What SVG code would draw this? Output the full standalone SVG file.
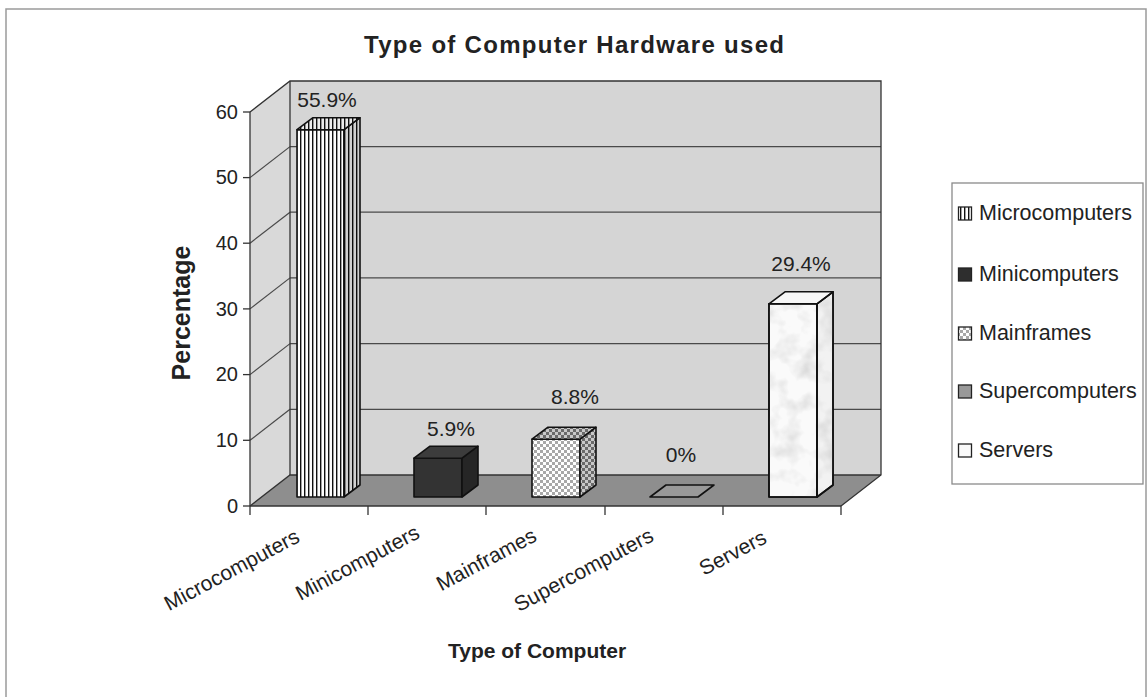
<svg xmlns="http://www.w3.org/2000/svg" width="1148" height="697" viewBox="0 0 1148 697">
  <style>
    text { font-family: "Liberation Sans", Arial, sans-serif; fill: #222; }
    .title { font-size: 24px; font-weight: bold; }
    .axis-title { font-size: 21px; font-weight: bold; }
    .tick { font-size: 20px; text-anchor: end; }
    .val { font-size: 21px; text-anchor: middle; }
    .cat { font-size: 21px; text-anchor: end; }
    .leg { font-size: 21.5px; }
    .grid { stroke: #4a4a4a; stroke-width: 1.2; fill: none; }
    .edge { stroke: #333; stroke-width: 1.3; fill: none; }
    .bar { stroke: #111; stroke-width: 1.6; stroke-linejoin: round; }
    .shade { fill: #000; fill-opacity: 0.18; stroke: none; }
  </style>
  <defs>
    <pattern id="stripes" width="4" height="4" patternUnits="userSpaceOnUse">
      <rect width="4" height="4" fill="#fff"/>
      <rect x="0" width="1.4" height="4" fill="#111"/>
    </pattern>
    <pattern id="checks" width="6" height="6" patternUnits="userSpaceOnUse">
      <rect width="6" height="6" fill="#fff"/>
      <rect width="3" height="3" fill="#a8a8a8"/>
      <rect x="3" y="3" width="3" height="3" fill="#a8a8a8"/>
    </pattern>
    <pattern id="checksDark" width="6" height="6" patternUnits="userSpaceOnUse">
      <rect width="6" height="6" fill="#c8c8c8"/>
      <rect width="3" height="3" fill="#6a6a6a"/>
      <rect x="3" y="3" width="3" height="3" fill="#6a6a6a"/>
    </pattern>
    <filter id="marble" x="0" y="0" width="1" height="1">
      <feTurbulence type="fractalNoise" baseFrequency="0.05" numOctaves="3" seed="7" result="n"/>
      <feColorMatrix in="n" type="matrix" values="0 0 0 0 0.6  0 0 0 0 0.6  0 0 0 0 0.6  1.4 0 0 0 -0.62" result="g"/>
      <feComposite in="g" in2="SourceGraphic" operator="in"/>
    </filter>
  </defs>

  <!-- outer chart frame -->
  <rect x="6" y="9" width="1140" height="700" fill="#fff" stroke="#9a9a9a" stroke-width="1.5"/>

  <text class="title" x="574" y="53" text-anchor="middle" textLength="420" lengthAdjust="spacing">Type of Computer Hardware used</text>

  <!-- plot area: walls and floor -->
  <g id="walls">
    <polygon points="290,81 881,81 881,475 290,475" fill="#d5d5d5"/>
    <polygon points="250,112 290,81 290,475 250,506" fill="#d9d9d9"/>
    <polygon points="250,506 290,475 881,475 841,506" fill="#8e8e8e"/>
    <g class="grid">
      <line x1="290" y1="409.3" x2="881" y2="409.3"/>
      <line x1="290" y1="343.6" x2="881" y2="343.6"/>
      <line x1="290" y1="277.9" x2="881" y2="277.9"/>
      <line x1="290" y1="212.2" x2="881" y2="212.2"/>
      <line x1="290" y1="146.6" x2="881" y2="146.6"/>
      <line x1="250" y1="440.3" x2="290" y2="409.3"/>
      <line x1="250" y1="374.6" x2="290" y2="343.6"/>
      <line x1="250" y1="308.9" x2="290" y2="277.9"/>
      <line x1="250" y1="243.2" x2="290" y2="212.2"/>
      <line x1="250" y1="177.6" x2="290" y2="146.6"/>
    </g>
    <g class="edge">
      <polyline points="250,112 290,81 881,81 881,475 841,506"/>
      <line x1="290" y1="81" x2="290" y2="475"/>
      <polyline points="250,506 290,475 881,475"/>
    </g>
  </g>

  <!-- value axis -->
  <g id="y-axis">
    <line class="edge" x1="250" y1="112" x2="250" y2="506"/>
    <g class="edge">
      <line x1="243" y1="506" x2="250" y2="506"/>
      <line x1="243" y1="440.3" x2="250" y2="440.3"/>
      <line x1="243" y1="374.6" x2="250" y2="374.6"/>
      <line x1="243" y1="308.9" x2="250" y2="308.9"/>
      <line x1="243" y1="243.2" x2="250" y2="243.2"/>
      <line x1="243" y1="177.6" x2="250" y2="177.6"/>
      <line x1="243" y1="112" x2="250" y2="112"/>
    </g>
    <text class="tick" x="238" y="513">0</text>
    <text class="tick" x="238" y="447">10</text>
    <text class="tick" x="238" y="381">20</text>
    <text class="tick" x="238" y="316">30</text>
    <text class="tick" x="238" y="250">40</text>
    <text class="tick" x="238" y="184">50</text>
    <text class="tick" x="238" y="119">60</text>
    <text class="axis-title" transform="translate(190,313) rotate(-90)" text-anchor="middle" style="font-size:25px">Percentage</text>
  </g>

  <!-- category axis -->
  <g id="x-axis">
    <line class="edge" x1="250" y1="506" x2="841" y2="506"/>
    <g class="edge">
      <line x1="250" y1="506" x2="250" y2="515"/>
      <line x1="368" y1="506" x2="368" y2="515"/>
      <line x1="486" y1="506" x2="486" y2="515"/>
      <line x1="605" y1="506" x2="605" y2="515"/>
      <line x1="723" y1="506" x2="723" y2="515"/>
      <line x1="841" y1="506" x2="841" y2="515"/>
    </g>
    <text class="cat" transform="translate(301,541) rotate(-28)">Microcomputers</text>
    <text class="cat" transform="translate(421,537) rotate(-28)">Minicomputers</text>
    <text class="cat" transform="translate(538,540) rotate(-28)">Mainframes</text>
    <text class="cat" transform="translate(655,540) rotate(-28)">Supercomputers</text>
    <text class="cat" transform="translate(768,542) rotate(-28)">Servers</text>
    <text class="axis-title" x="537" y="658" text-anchor="middle">Type of Computer</text>
  </g>

  <!-- bars: front face, side face, top face; depth offset (16,-12) -->
  <g id="bar-microcomputers">
    <rect class="bar" x="297" y="129.7" width="47" height="367.3" fill="url(#stripes)"/>
    <polygon class="bar" points="344,497 360,485 360,117.7 344,129.7" fill="url(#stripes)"/>
    <polygon class="shade" points="344,497 360,485 360,117.7 344,129.7"/>
    <polygon class="bar" points="297,129.7 313,117.7 360,117.7 344,129.7" fill="url(#stripes)"/>
    <polygon class="shade" points="297,129.7 313,117.7 360,117.7 344,129.7" style="fill-opacity:0.08"/>
    <text class="val" x="327" y="107">55.9%</text>
  </g>
  <g id="bar-minicomputers">
    <rect class="bar" x="414" y="458.2" width="48" height="38.8" fill="#333"/>
    <polygon class="bar" points="462,497 478,485 478,446.2 462,458.2" fill="#262626"/>
    <polygon class="bar" points="414,458.2 430,446.2 478,446.2 462,458.2" fill="#3c3c3c"/>
    <text class="val" x="451" y="436">5.9%</text>
  </g>
  <g id="bar-mainframes">
    <rect class="bar" x="532" y="439.2" width="48" height="57.8" fill="url(#checks)"/>
    <polygon class="bar" points="580,497 596,485 596,427.2 580,439.2" fill="url(#checksDark)"/>
    <polygon class="bar" points="532,439.2 548,427.2 596,427.2 580,439.2" fill="url(#checksDark)"/>
    <text class="val" x="575" y="404">8.8%</text>
  </g>
  <g id="bar-supercomputers">
    <polygon class="bar" points="650,497 698,497 714,485 666,485" fill="#999"/>
    <text class="val" x="681" y="462">0%</text>
  </g>
  <g id="bar-servers">
    <rect class="bar" x="769" y="303.8" width="48" height="193.2" fill="#fafafa"/>
    <rect x="769" y="303.8" width="48" height="193.2" fill="#fff" filter="url(#marble)"/>
    <polygon class="bar" points="817,497 833,485 833,291.8 817,303.8" fill="#f2f2f2"/>
    <polygon points="817,497 833,485 833,291.8 817,303.8" fill="#fff" filter="url(#marble)"/>
    <polygon class="bar" points="769,303.8 785,291.8 833,291.8 817,303.8" fill="#f6f6f6"/>
    <rect class="bar" x="769" y="303.8" width="48" height="193.2" fill="none"/>
    <polygon class="bar" points="817,497 833,485 833,291.8 817,303.8" fill="none"/>
    <text class="val" x="801" y="271">29.4%</text>
  </g>

  <!-- legend -->
  <g id="legend">
    <rect x="952" y="183" width="191" height="301" fill="#fff" stroke="#8a8a8a" stroke-width="1.3"/>
    <rect x="958.5" y="207" width="13" height="13" fill="url(#stripes)" stroke="#222" stroke-width="1.3"/>
    <text class="leg" x="979" y="220">Microcomputers</text>
    <rect x="958.5" y="268" width="13" height="13" fill="#2e2e2e" stroke="#222" stroke-width="1.3"/>
    <text class="leg" x="979" y="281">Minicomputers</text>
    <rect x="958.5" y="327" width="13" height="13" fill="url(#checks)" stroke="#222" stroke-width="1.3"/>
    <text class="leg" x="979" y="340">Mainframes</text>
    <rect x="958.5" y="385" width="13" height="13" fill="#999" stroke="#222" stroke-width="1.3"/>
    <text class="leg" x="979" y="398">Supercomputers</text>
    <rect x="958.5" y="444" width="13" height="13" fill="#fafafa" stroke="#222" stroke-width="1.3"/>
    <text class="leg" x="979" y="457">Servers</text>
  </g>
</svg>
